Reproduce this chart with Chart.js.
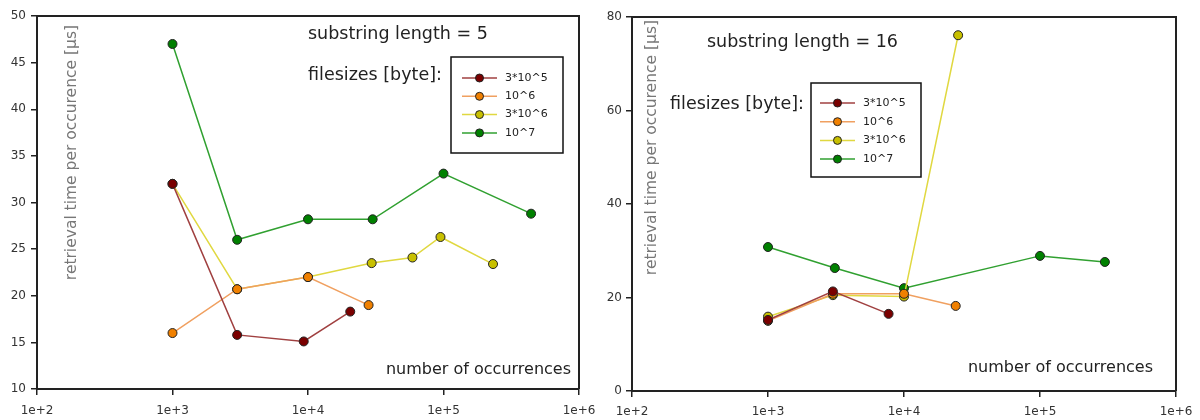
<!DOCTYPE html>
<html>
<head>
<meta charset="utf-8">
<script src="https://cdn.jsdelivr.net/npm/chart.js@4"></script>
<style>
    body { margin: 0; background: #fff; }
    .wrap { display: flex; width: 1200px; height: 420px; }
    .box { position: relative; width: 600px; height: 420px; }
</style>
</head>
<body>
<div class="wrap">
    <div class="box"><canvas id="left"></canvas></div>
    <div class="box"><canvas id="right"></canvas></div>
</div>
<script>
// --- Data ---
const xTicks = [100, 1000, 10000, 100000, 1000000];
const seriesNames = ['3*10^5', '10^6', '3*10^6', '10^7'];
const markerColors = ['#7a0000', '#f08000', '#c8c000', '#008000'];
const lineColors = ['#a04040', '#f0a060', '#e0d840', '#30a030'];

// substring length = 5
const len5X_3e5 = [1000, 3000, 9300, 20500];
const len5Y_3e5 = [32, 15.8, 15.1, 18.3];
const len5X_1e6 = [1000, 3000, 10000, 28000];
const len5Y_1e6 = [16, 20.7, 22, 19];
const len5X_3e6 = [1000, 3000, 10000, 29500, 59000, 95000, 232000];
const len5Y_3e6 = [32, 20.7, 22, 23.5, 24.1, 26.3, 23.4];
const len5X_1e7 = [1000, 3000, 10000, 30000, 100000, 443000];
const len5Y_1e7 = [47, 26, 28.2, 28.2, 33.1, 28.8];
const len5YTicks = [10, 15, 20, 25, 30, 35, 40, 45, 50];

// substring length = 16
const len16X_3e5 = [1000, 3000, 7700];
const len16Y_3e5 = [15.2, 21.3, 16.5];
const len16X_1e6 = [1000, 3000, 10000, 24000];
const len16Y_1e6 = [15, 20.8, 20.8, 18.2];
const len16X_3e6 = [1000, 3000, 10000, 25000];
const len16Y_3e6 = [15.9, 20.5, 20.2, 76.1];
const len16X_1e7 = [1000, 3100, 10000, 100000, 300000];
const len16Y_1e7 = [30.8, 26.3, 22, 28.9, 27.6];
const len16YTicks = [0, 20, 40, 60, 80];

const FONT = '"DejaVu Sans", sans-serif';

function pts(xs, ys) {
    return xs.map((x, i) => ({ x: x, y: ys[i] }));
}

// frame, texts and the boxed legend
const decorPlugin = {
    id: 'decor',
    afterDraw(chart, args, o) {
        const ctx = chart.ctx;
        const a = chart.chartArea;
        ctx.save();
        ctx.strokeStyle = '#222';
        ctx.lineWidth = 2;
        ctx.beginPath();
        ctx.moveTo(a.left, a.top);
        ctx.lineTo(a.right, a.top);
        ctx.lineTo(a.right, a.bottom);
        ctx.stroke();

        ctx.fillStyle = '#222';
        ctx.font = '17.5px ' + FONT;
        ctx.textBaseline = 'middle';
        ctx.textAlign = 'left';
        ctx.fillText(o.title, o.titleX, o.titleY);
        ctx.fillText('filesizes [byte]:', o.fsX, o.fsY);
        ctx.font = '16px ' + FONT;
        ctx.textAlign = 'right';
        ctx.fillText('number of occurrences', o.noX, o.noY);

        // y axis title, rotated inside the plot
        ctx.save();
        ctx.translate(o.ytX, o.ytY);
        ctx.rotate(-Math.PI / 2);
        ctx.textAlign = 'right';
        ctx.fillStyle = '#777';
        ctx.font = '15.5px ' + FONT;
        ctx.fillText('retrieval time per occurence [\u00b5s]', 0, 0);
        ctx.restore();

        // legend box
        const lg = o.legend;
        ctx.strokeStyle = '#111';
        ctx.lineWidth = 1.5;
        ctx.strokeRect(lg.x, lg.y, lg.w, lg.h);
        ctx.font = '11px ' + FONT;
        ctx.textAlign = 'left';
        chart.data.datasets.forEach((ds, i) => {
            const yy = lg.rowY + i * lg.rowH;
            ctx.strokeStyle = ds.borderColor;
            ctx.lineWidth = 1.5;
            ctx.beginPath();
            ctx.moveTo(lg.lineX, yy);
            ctx.lineTo(lg.lineX + 35, yy);
            ctx.stroke();
            ctx.beginPath();
            ctx.arc(lg.lineX + 17.5, yy, 4, 0, Math.PI * 2);
            ctx.fillStyle = ds.pointBackgroundColor;
            ctx.fill();
            ctx.strokeStyle = '#222';
            ctx.lineWidth = 1;
            ctx.stroke();
            ctx.fillStyle = '#222';
            ctx.fillText(ds.label, lg.lineX + 43, yy);
        });
        ctx.restore();
    }
};

function makeChart(id, series, yTicks, yMin, yMax, geo, decor) {
    const datasets = series.map((s, i) => ({
        label: seriesNames[i],
        data: pts(s[0], s[1]),
        borderColor: lineColors[i],
        backgroundColor: markerColors[i],
        pointBackgroundColor: markerColors[i],
        pointBorderColor: '#222',
        pointBorderWidth: 1,
        pointRadius: 4.5,
        borderWidth: 1.5,
        tension: 0
    }));
    return new Chart(document.getElementById(id), {
        type: 'line',
        data: { datasets: datasets },
        options: {
            responsive: true,
            maintainAspectRatio: false,
            animation: false,
            layout: { padding: { top: geo.top, right: geo.right, left: 0, bottom: 0 } },
            plugins: { legend: { display: false }, tooltip: { enabled: false }, decor: decor },
            scales: {
                x: {
                    type: 'logarithmic',
                    min: 100,
                    max: 1000000,
                    afterBuildTicks: s => { s.ticks = xTicks.map(v => ({ value: v })); },
                    afterFit: s => { s.height = geo.xh; s.paddingRight = 0; s.paddingLeft = 0; },
                    ticks: {
                        autoSkip: false,
                        maxRotation: 0,
                        color: '#333',
                        padding: geo.xpad,
                        font: { family: FONT, size: 12 },
                        callback: v => '1e+' + Math.round(Math.log10(v))
                    },
                    grid: { drawOnChartArea: false, drawTicks: true, tickLength: 6, color: '#222', lineWidth: 1.5 },
                    border: { color: '#222', width: 2 }
                },
                y: {
                    min: yMin,
                    max: yMax,
                    afterBuildTicks: s => { s.ticks = yTicks.map(v => ({ value: v })); },
                    afterFit: s => { s.width = geo.yw; },
                    ticks: {
                        color: '#333',
                        padding: geo.ypad,
                        font: { family: FONT, size: 12 }
                    },
                    grid: { drawOnChartArea: false, drawTicks: true, tickLength: 6, color: '#222', lineWidth: 1.5 },
                    border: { color: '#222', width: 2 }
                }
            }
        },
        plugins: [decorPlugin]
    });
}

makeChart('left', [
    [len5X_3e5, len5Y_3e5],
    [len5X_1e6, len5Y_1e6],
    [len5X_3e6, len5Y_3e6],
    [len5X_1e7, len5Y_1e7]
], len5YTicks, 10, 50, { top: 16, right: 21, xh: 31, yw: 37, xpad: 9, ypad: 5 }, {
    title: 'substring length = 5', titleX: 308, titleY: 34,
    fsX: 308, fsY: 75,
    noX: 571, noY: 370,
    ytX: 72, ytY: 25,
    legend: { x: 451, y: 57, w: 112, h: 96, lineX: 462, rowY: 78, rowH: 18.3 }
});

makeChart('right', [
    [len16X_3e5, len16Y_3e5],
    [len16X_1e6, len16Y_1e6],
    [len16X_3e6, len16Y_3e6],
    [len16X_1e7, len16Y_1e7]
], len16YTicks, 0, 80, { top: 17, right: 24, xh: 29, yw: 32, xpad: 8, ypad: 4 }, {
    title: 'substring length = 16', titleX: 107, titleY: 42,
    fsX: 70, fsY: 104,
    noX: 553, noY: 368,
    ytX: 52, ytY: 20,
    legend: { x: 211, y: 83, w: 110, h: 94, lineX: 220, rowY: 103, rowH: 18.7 }
});
</script>
</body>
</html>
